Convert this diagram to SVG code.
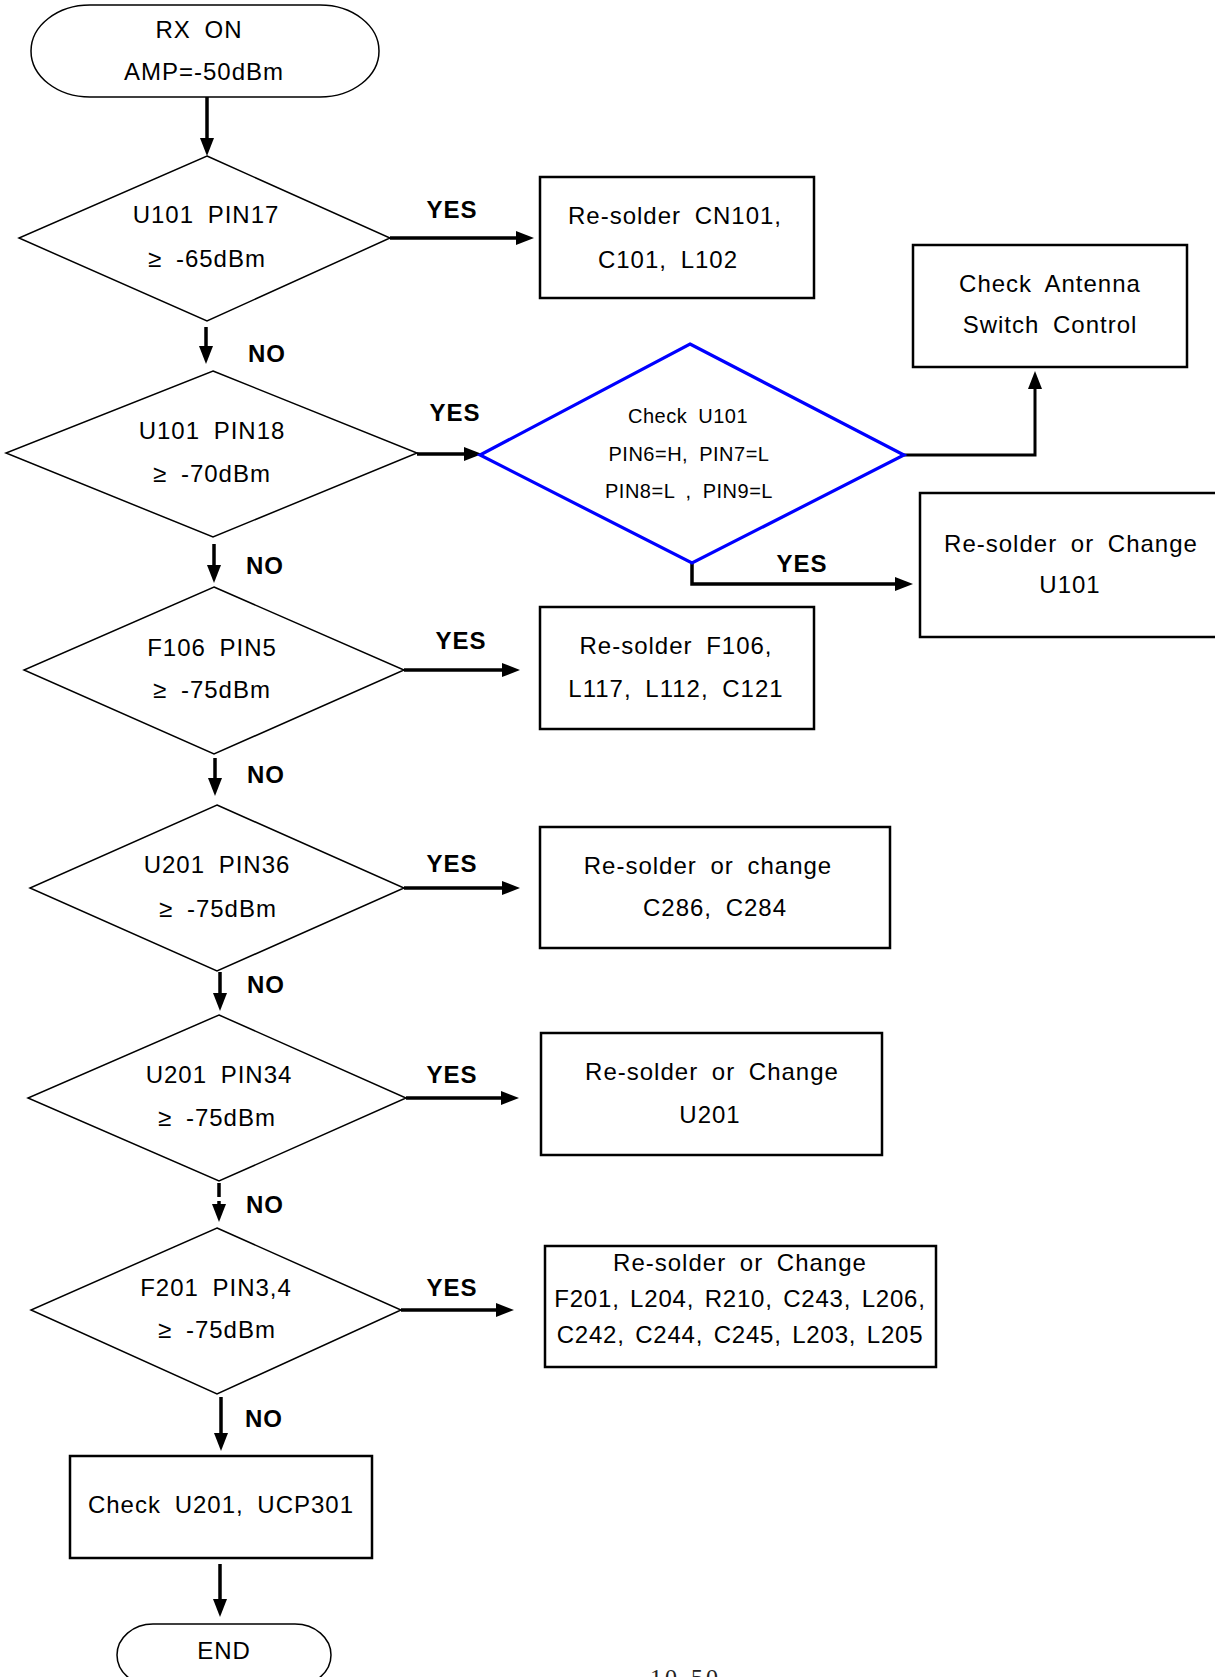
<svg xmlns="http://www.w3.org/2000/svg" width="1215" height="1677" viewBox="0 0 1215 1677">
<style>
.t{font-family:"Liberation Sans",Arial,sans-serif;font-size:24px;letter-spacing:1px;word-spacing:6px;text-anchor:middle;fill:#000}
.tb{font-family:"Liberation Sans",Arial,sans-serif;font-size:24px;letter-spacing:1px;word-spacing:6px;text-anchor:middle;fill:#000}
.tn{word-spacing:3px;letter-spacing:0.8px}
.ts{font-family:"Liberation Sans",Arial,sans-serif;font-size:20px;letter-spacing:0.5px;word-spacing:5px;text-anchor:middle;fill:#000}
.lbl{font-family:"Liberation Sans",Arial,sans-serif;font-size:24px;font-weight:bold;letter-spacing:1px;text-anchor:middle;fill:#000}
.pg{font-family:"Liberation Serif","Times New Roman",serif;font-size:24px;letter-spacing:3px;fill:#222}
.sh{fill:#fff;stroke:#000;stroke-width:1.5}
.box{fill:#fff;stroke:#000;stroke-width:2.5}
.blue{fill:#fff;stroke:#0000ff;stroke-width:3.2}
.c{fill:none;stroke:#000;stroke-width:3.5;marker-end:url(#ah)}
.c2{fill:none;stroke:#000;stroke-width:3;marker-end:url(#ah)}
</style>
<defs>
<marker id="ah" markerUnits="userSpaceOnUse" viewBox="0 0 18 14" markerWidth="18" markerHeight="14" refX="10" refY="7" orient="auto">
<path d="M0,0 L18,7 L0,14 Z" fill="#000"/>
</marker>
</defs>
<rect width="1215" height="1677" fill="#fff"/>

<g id="connectors">
<path class="c" d="M207,97 V148"/>
<path class="c" d="M390,238 H526"/>
<path class="c" d="M206,327 V356"/>
<path class="c" d="M417,454 H474"/>
<path class="c2" d="M904,455 H1035 V379"/>
<path class="c" d="M692,563 V584 H905"/>
<path class="c" d="M214,544 V575"/>
<path class="c" d="M404,670 H512"/>
<path class="c" d="M215,758 V788"/>
<path class="c" d="M404,888 H512"/>
<path class="c" d="M220,972 V1003"/>
<path class="c" d="M406,1098 H511"/>
<path class="c" d="M219,1183 V1214" stroke-dasharray="14 4"/>
<path class="c" d="M401,1310 H506"/>
<path class="c" d="M221,1397 V1443"/>
<path class="c" d="M220,1564 V1609"/>
<text class="lbl" x="452" y="218">YES</text>
<text class="lbl" x="455" y="421">YES</text>
<text class="lbl" x="802" y="572">YES</text>
<text class="lbl" x="461" y="649">YES</text>
<text class="lbl" x="452" y="872">YES</text>
<text class="lbl" x="452" y="1083">YES</text>
<text class="lbl" x="452" y="1296">YES</text>
<text class="lbl" x="267" y="362">NO</text>
<text class="lbl" x="265" y="574">NO</text>
<text class="lbl" x="266" y="783">NO</text>
<text class="lbl" x="266" y="993">NO</text>
<text class="lbl" x="265" y="1213">NO</text>
<text class="lbl" x="264" y="1427">NO</text>
</g>

<g id="start">
<path class="sh" d="M90,5 H320 A59 46 0 0 1 320,97 H90 A59 46 0 0 1 90,5 Z"/>
<text class="t" x="199" y="38">RX ON</text>
<text class="t" x="204" y="80">AMP=-50dBm</text>
</g>

<g id="d1">
<polygon class="sh" points="207,156 390,238 207,321 19,238"/>
<text class="t" x="206" y="223">U101 PIN17</text>
<text class="t" x="207" y="267">≥ -65dBm</text>
</g>

<g id="b1">
<rect class="box" x="540" y="177" width="274" height="121"/>
<text class="tb" x="675" y="224">Re-solder CN101,</text>
<text class="tb" x="668" y="268">C101, L102</text>
</g>

<g id="antenna">
<rect class="box" x="913" y="245" width="274" height="122"/>
<text class="tb" x="1050" y="292">Check Antenna</text>
<text class="tb" x="1050" y="333">Switch Control</text>
</g>

<g id="d2">
<polygon class="sh" points="213,371 417,453 213,537 6,453"/>
<text class="t" x="212" y="439">U101 PIN18</text>
<text class="t" x="212" y="482">≥ -70dBm</text>
</g>

<g id="check-u101">
<polygon class="blue" points="690,344 904,455 692,563 480,455"/>
<text class="ts" x="688" y="423">Check U101</text>
<text class="ts" x="689" y="461">PIN6=H, PIN7=L</text>
<text class="ts" x="689" y="498">PIN8=L , PIN9=L</text>
</g>

<g id="b-u101">
<rect class="box" x="920" y="493" width="300" height="144"/>
<text class="tb" x="1071" y="552">Re-solder or Change</text>
<text class="tb" x="1070" y="593">U101</text>
</g>

<g id="d3">
<polygon class="sh" points="214,587 404,670 214,754 24,670"/>
<text class="t" x="212" y="656">F106 PIN5</text>
<text class="t" x="212" y="698">≥ -75dBm</text>
</g>

<g id="b-f106">
<rect class="box" x="540" y="607" width="274" height="122"/>
<text class="tb" x="676" y="654">Re-solder F106,</text>
<text class="tb" x="676" y="697">L117, L112, C121</text>
</g>

<g id="d4">
<polygon class="sh" points="217,805 404,888 217,971 30,888"/>
<text class="t" x="217" y="873">U201 PIN36</text>
<text class="t" x="218" y="917">≥ -75dBm</text>
</g>

<g id="b-c286">
<rect class="box" x="540" y="827" width="350" height="121"/>
<text class="tb" x="708" y="874">Re-solder or change</text>
<text class="tb" x="715" y="916">C286, C284</text>
</g>

<g id="d5">
<polygon class="sh" points="219,1015 406,1098 219,1181 28,1098"/>
<text class="t" x="219" y="1083">U201 PIN34</text>
<text class="t" x="217" y="1126">≥ -75dBm</text>
</g>

<g id="b-u201">
<rect class="box" x="541" y="1033" width="341" height="122"/>
<text class="tb" x="712" y="1080">Re-solder or Change</text>
<text class="tb" x="710" y="1123">U201</text>
</g>

<g id="d6">
<polygon class="sh" points="217,1228 401,1310 217,1394 31,1310"/>
<text class="t" x="216" y="1296">F201 PIN3,4</text>
<text class="t" x="217" y="1338">≥ -75dBm</text>
</g>

<g id="b-f201">
<rect class="box" x="545" y="1246" width="391" height="121"/>
<text class="tb" x="740" y="1271">Re-solder or Change</text>
<text class="tb tn" x="740" y="1307">F201, L204, R210, C243, L206,</text>
<text class="tb tn" x="740" y="1343">C242, C244, C245, L203, L205</text>
</g>

<g id="b-check-u201">
<rect class="box" x="70" y="1456" width="302" height="102"/>
<text class="tb" x="221" y="1513">Check U201, UCP301</text>
</g>

<g id="end">
<path class="sh" d="M153,1624 H295 A36 31 0 0 1 295,1686 H153 A36 31 0 0 1 153,1624 Z"/>
<text class="tb" x="224" y="1659">END</text>
</g>

<text class="pg" x="650" y="1685">10-50</text>
</svg>
